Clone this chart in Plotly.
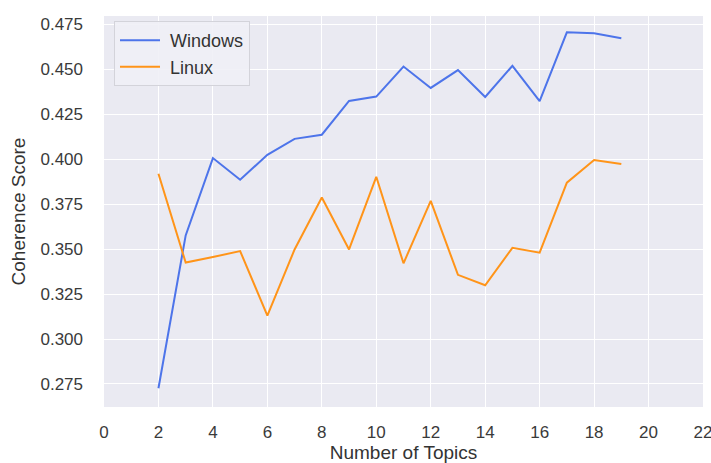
import plotly.graph_objects as go

topics = list(range(2, 20))
windows = [0.2726, 0.3576, 0.4006, 0.3886, 0.4024, 0.4113, 0.4136, 0.4324, 0.4348, 0.4515,
           0.4396, 0.4495, 0.4346, 0.4519, 0.4323, 0.4705, 0.4700, 0.4672]
linux = [0.3919, 0.3425, 0.3456, 0.3489, 0.3130, 0.3498, 0.3787, 0.3498, 0.3902, 0.3421,
         0.3768, 0.3357, 0.3299, 0.3507, 0.3480, 0.3869, 0.3995, 0.3973]
x_ticks = list(range(0, 23, 2))
y_ticks = [0.275, 0.300, 0.325, 0.350, 0.375, 0.400, 0.425, 0.450, 0.475]
series_names = ["Windows", "Linux"]

font_family = "Liberation Sans, Arial, sans-serif"
fig = go.Figure()
fig.add_trace(go.Scatter(x=topics, y=windows, mode="lines", name="\u00a0" + series_names[0],
                         line=dict(color="#4d74ea", width=2)))
fig.add_trace(go.Scatter(x=topics, y=linux, mode="lines", name="\u00a0" + series_names[1],
                         line=dict(color="#ff9419", width=2)))

fig.update_layout(
    width=711, height=463,
    margin=dict(l=104, r=8, t=16, b=56, autoexpand=False),
    paper_bgcolor="white", plot_bgcolor="#EAEAF2",
    font=dict(family=font_family, size=17, color="#3a3a3a"),
    showlegend=True,
    legend=dict(x=0.0167, y=0.987, xanchor="left", yanchor="top",
                bgcolor="rgba(240,240,246,0.9)", bordercolor="#d3d3da", borderwidth=1,
                font=dict(size=18, color="#333333"), itemwidth=40),
    xaxis=dict(range=[0, 22], tickvals=x_ticks, showgrid=True, gridcolor="white",
               gridwidth=1.3, zeroline=False, showline=False, ticks="",
               ticklabelstandoff=13, automargin=False, ticklabeloverflow="allow",
               title=dict(text="Number of Topics", standoff=4,
                          font=dict(size=19, color="#333333"))),
    yaxis=dict(range=[0.2622, 0.4796], tickvals=y_ticks, tickformat=".3f",
               showgrid=True, gridcolor="white", gridwidth=1.3, zeroline=False,
               showline=False, ticks="", ticklabelstandoff=20, automargin=False,
               title=dict(text="Coherence Score", standoff=9,
                          font=dict(size=19, color="#333333"))),
)

fig.write_html("out.html", config={"displayModeBar": False},
               post_script="document.body.style.margin='0';")
